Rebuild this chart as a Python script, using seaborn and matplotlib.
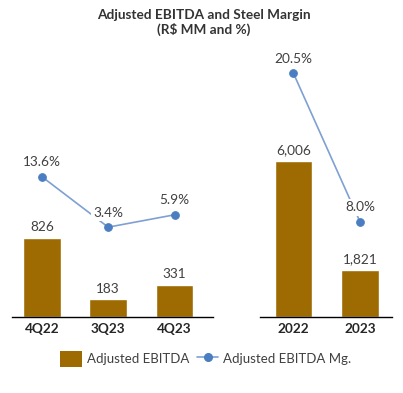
import matplotlib
matplotlib.use("Agg")
import matplotlib.pyplot as plt
import seaborn as sns
import pandas as pd
from matplotlib.lines import Line2D
from matplotlib.patches import Patch

# ---- data ----
q_labels = ["4Q22", "3Q23", "4Q23"]
q_ebitda = [826, 183, 331]
q_margin = [13.6, 3.4, 5.9]
q_ebitda_txt = ["826", "183", "331"]

y_labels = ["2022", "2023"]
y_ebitda = [6006, 1821]
y_margin = [20.5, 8.0]
y_ebitda_txt = ["6,006", "1,821"]

title = "Adjusted EBITDA and Steel Margin\n(R$ MM and %)"
legend_bar = "Adjusted EBITDA"
legend_line = "Adjusted EBITDA Mg."

BAR = "#9E6A02"
LINE = "#7FA0D2"
MARK = "#4A7EC0"
TXT = "#404040"
FONT = ["Lato", "DejaVu Sans"]

sns.set_theme(style="white")
plt.rcParams["font.family"] = FONT

W, H = 403, 393
fig = plt.figure(figsize=(W / 100, H / 100), dpi=100)

def fx(px):
    return px / W

def fy(py):
    return 1 - py / H

top_px, base_px = 40, 317
ax1 = fig.add_axes([fx(12), fy(base_px), fx(213 - 12), (base_px - top_px) / H])
ax2 = fig.add_axes([fx(260), fy(base_px), fx(392 - 260), (base_px - top_px) / H])


def panel(ax, cats, bars, btxt, margins, xlim, ylim, y2lim, width):
    df = pd.DataFrame({"cat": cats, "val": bars, "mg": margins})
    sns.barplot(data=df, x="cat", y="val", color=BAR, ax=ax, width=width,
                saturation=1, zorder=2)
    ax.set_xlim(*xlim)
    ax.set_ylim(*ylim)
    ax.set_xlabel("")
    ax.set_ylabel("")
    ax.set_yticks([])
    for s in ["left", "right", "top"]:
        ax.spines[s].set_visible(False)
    ax.spines["bottom"].set_color("black")
    ax.spines["bottom"].set_linewidth(1.0)
    ax.tick_params(axis="x", length=0, pad=4)
    for t in ax.get_xticklabels():
        t.set_fontweight("bold")
        t.set_fontsize(9.8)
        t.set_color("#262626")
    for i, (v, s) in enumerate(zip(bars, btxt)):
        ax.annotate(s, (i, v), xytext=(0, 3.5), textcoords="offset points",
                    ha="center", va="bottom", fontsize=9.8, color=TXT)
    tw = ax.twinx()
    sns.lineplot(x=list(range(len(cats))), y=margins, ax=tw, color=LINE,
                 linewidth=1.2, marker="o", markersize=5.5,
                 markerfacecolor=MARK, markeredgecolor=MARK, zorder=3)
    tw.set_ylim(*y2lim)
    tw.set_xlim(*xlim)
    tw.set_yticks([])
    tw.set_ylabel("")
    for s in tw.spines.values():
        s.set_visible(False)
    for i, m in enumerate(margins):
        tw.annotate(f"{m:.1f}%", (i, m), xytext=(0, 6), textcoords="offset points",
                    ha="center", va="bottom", fontsize=9.8, color=TXT, zorder=5,
                    bbox=dict(boxstyle="square,pad=0.15", fc="white", ec="none"))


panel(ax1, q_labels, q_ebitda, q_ebitda_txt, q_margin,
      (-0.45, 2.58), (0, 277 / 0.0957), (-73 / 4.95, (244 - 40) / 4.95), 0.57)
panel(ax2, y_labels, y_ebitda, y_ebitda_txt, y_margin,
      (-0.50, 1.48), (0, 277 / 0.026), (0, 277 / 11.9), 0.56)

fig.text(0.505, fy(22.5), title, ha="center", va="center", fontsize=9.8,
         fontweight="bold", color="#333333", linespacing=1.25)

handles = [Patch(facecolor=BAR, edgecolor="none"),
           Line2D([0], [0], color=LINE, lw=1.2, marker="o", markersize=5.5,
                  markerfacecolor=MARK, markeredgecolor=MARK)]
fig.legend(handles, [legend_bar, legend_line], loc="center",
           bbox_to_anchor=(fx(206), fy(359)), ncol=2, frameon=False,
           fontsize=9.5, handlelength=1.6, handleheight=1.4, columnspacing=0.6,
           handletextpad=0.4, labelcolor=TXT)

fig.savefig("out.png", dpi=100)
